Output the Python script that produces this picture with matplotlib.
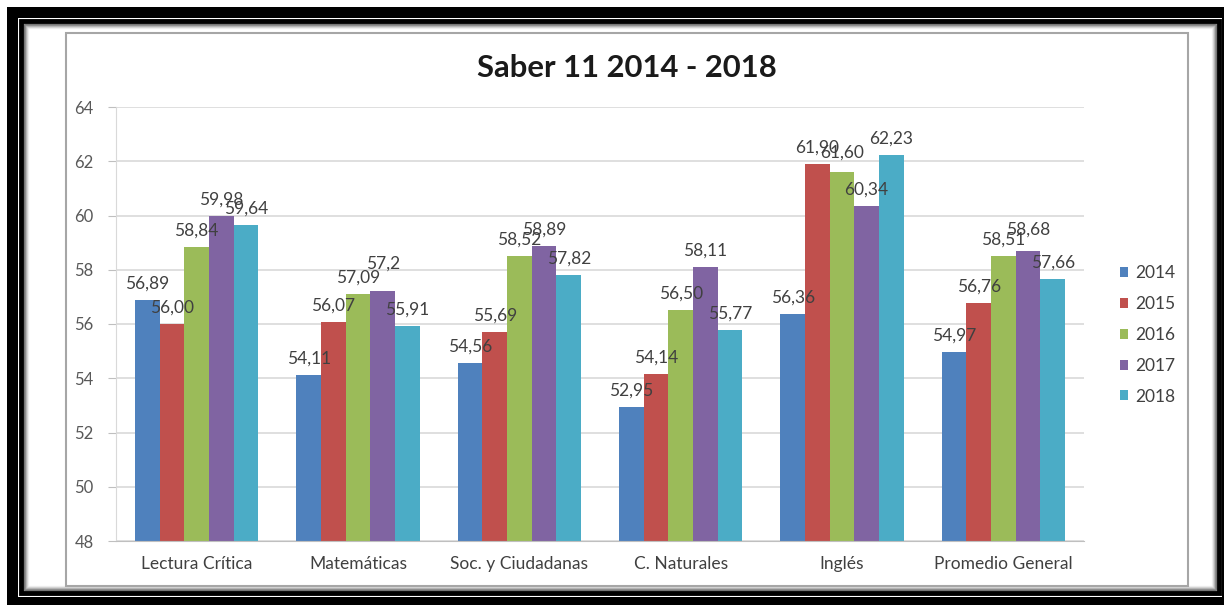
import matplotlib.pyplot as plt
from matplotlib.patches import Rectangle
import numpy as np

# Données
categorias = ["Lectura Crítica", "Matemáticas", "Soc. y Ciudadanas",
              "C. Naturales", "Inglés", "Promedio General"]
anios = ["2014", "2015", "2016", "2017", "2018"]
valores_2014 = ["56,89", "54,11", "54,56", "52,95", "56,36", "54,97"]
valores_2015 = ["56,00", "56,07", "55,69", "54,14", "61,90", "56,76"]
valores_2016 = ["58,84", "57,09", "58,52", "56,50", "61,60", "58,51"]
valores_2017 = ["59,98", "57,2", "58,89", "58,11", "60,34", "58,68"]
valores_2018 = ["59,64", "55,91", "57,82", "55,77", "62,23", "57,66"]
yticks = [48, 50, 52, 54, 56, 58, 60, 62, 64]

series = [valores_2014, valores_2015, valores_2016, valores_2017, valores_2018]
colores = ["#4F81BD", "#C0504D", "#9BBB59", "#8064A2", "#4BACC6"]

# étiquettes décalées vers le haut comme dans l'original (serie, categorie) -> points
decalage = {(3, 1): 8, (3, 5): 4, (2, 4): 2}

plt.rcParams['font.family'] = ['Lato', 'DejaVu Sans']

W, H = 1224, 605
fig = plt.figure(figsize=(W / 100, H / 100), dpi=100)


def rect_px(x0, y0, x1, y1, **kw):
    # rectangle en pixels (origine en haut à gauche)
    r = Rectangle((x0 / W, 1 - y1 / H), (x1 - x0) / W, (y1 - y0) / H,
                  transform=fig.transFigure, **kw)
    fig.add_artist(r)
    return r


# Cadre noir et ombre
rect_px(7, 7, 1226, 607, facecolor="black", edgecolor="none", zorder=-10)
rect_px(18, 18, 1222, 597, facecolor="white", edgecolor="none", zorder=-9)
rect_px(21, 21, 1219, 593, facecolor="none", edgecolor="black", lw=3.5, zorder=-8)
for i, a in enumerate([0.5, 0.35, 0.22, 0.12, 0.05]):
    rect_px(24 + i, 24 + i, 1216 - i, 590 - i, facecolor="none",
            edgecolor="black", lw=1, alpha=a, zorder=-7)
rect_px(66, 33, 1188, 586, facecolor="white", edgecolor="#a6a6a6", lw=1.5, zorder=-6)

ax = fig.add_axes([116 / W, 1 - 541 / H, (1084 - 116) / W, (541 - 107) / H])
ax.set_facecolor("none")

x = np.arange(len(categorias))
ancho = 0.153
for i, (anio, vals, c) in enumerate(zip(anios, series, colores)):
    nums = [float(v.replace(",", ".")) for v in vals]
    pos = x + (i - 2) * ancho
    ax.bar(pos, np.array(nums) - 48, width=ancho, bottom=48, color=c,
           label=anio, zorder=2)
    for j, (p, n, t) in enumerate(zip(pos, nums, vals)):
        dy = 6 + decalage.get((i, j), 0)
        ax.annotate(t, (p, n), xytext=(0, dy), textcoords="offset points",
                    ha="center", va="bottom", fontsize=12.5, color="#404040",
                    zorder=3)

ax.set_xlim(-0.5, 5.5)
ax.set_ylim(48, 64)
ax.set_yticks(yticks)
ax.set_yticklabels([str(t) for t in yticks], fontsize=12, color="#595959")
ax.set_xticks(x)
ax.set_xticklabels(categorias, fontsize=12.5, color="#404040")
ax.tick_params(axis="x", length=0, pad=11)
ax.tick_params(axis="y", length=6, color="#bfbfbf", pad=10)
ax.grid(axis="y", color="#d9d9d9", lw=1.2, zorder=0)
for s in ["top", "right"]:
    ax.spines[s].set_visible(False)
ax.spines["left"].set_color("#d9d9d9")
ax.spines["bottom"].set_color("#bfbfbf")
ax.set_axisbelow(True)

fig.text(627 / W, 1 - 68 / H, "Saber 11 2014 - 2018", ha="center", va="center",
         fontsize=22.3, fontweight="bold", color="#1a1a1a")

fig.legend(loc="center left", bbox_to_anchor=(1104 / W, 1 - 335 / H),
           frameon=False, fontsize=12.5, handlelength=0.5, handleheight=0.5,
           handletextpad=0.4, labelspacing=0.85, labelcolor="#404040")

plt.savefig("out.png", dpi=100)
